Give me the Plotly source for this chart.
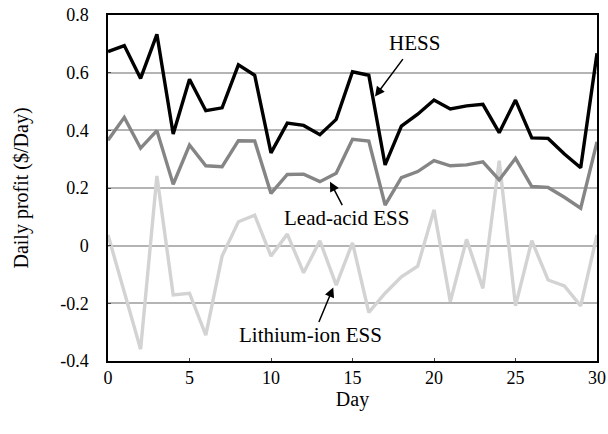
import plotly.graph_objects as go

days = list(range(31))
hess = [0.673, 0.694, 0.580, 0.733, 0.387, 0.577, 0.468, 0.478, 0.627, 0.591,
        0.322, 0.425, 0.417, 0.385, 0.438, 0.603, 0.591, 0.280, 0.415, 0.456,
        0.505, 0.474, 0.485, 0.490, 0.392, 0.505, 0.374, 0.372, 0.318, 0.270, 0.667]
lead_acid = [0.366, 0.445, 0.338, 0.399, 0.213, 0.349, 0.277, 0.274, 0.364, 0.363,
             0.181, 0.247, 0.248, 0.222, 0.251, 0.369, 0.363, 0.141, 0.236, 0.257,
             0.295, 0.277, 0.280, 0.291, 0.228, 0.303, 0.205, 0.202, 0.168, 0.130, 0.360]
lithium = [0.037, -0.165, -0.359, 0.242, -0.171, -0.165, -0.310, -0.036, 0.083, 0.106,
           -0.036, 0.040, -0.094, 0.017, -0.137, 0.010, -0.231, -0.165, -0.108, -0.071,
           0.124, -0.194, 0.022, -0.148, 0.295, -0.209, 0.017, -0.119, -0.140, -0.209, 0.037]

FONT = "Liberation Serif"

fig = go.Figure()
fig.add_trace(go.Scatter(x=days, y=lithium, mode="lines", name="Lithium-ion ESS",
                         line=dict(color="#d3d3d3", width=3.4)))
fig.add_trace(go.Scatter(x=days, y=lead_acid, mode="lines", name="Lead-acid ESS",
                         line=dict(color="#858585", width=3.4)))
fig.add_trace(go.Scatter(x=days, y=hess, mode="lines", name="HESS",
                         line=dict(color="#000000", width=3.4)))

# labels: (text, text_x, text_y, head_x, head_y, tail_dx_px, tail_dy_px)
labels = [
    ("HESS", 18.83, 0.703, 16.38, 0.517, 29, -39),
    ("Lead-acid ESS", 14.66, 0.096, 13.62, 0.222, 13, 25),
    ("Lithium-ion ESS", 12.45, -0.31, 13.82, -0.145, -15, 36),
]
for txt, tx, ty, hx, hy, dx, dy in labels:
    fig.add_annotation(x=tx, y=ty, text=txt, showarrow=False,
                       font=dict(family=FONT, size=21, color="black"))
    fig.add_annotation(x=hx, y=hy, text="", showarrow=True, ax=dx, ay=dy,
                       arrowhead=2, arrowsize=1.3, arrowwidth=1.5, arrowcolor="black")

fig.update_layout(
    width=608, height=434,
    margin=dict(l=108, r=11, t=15, b=73),
    paper_bgcolor="white", plot_bgcolor="white",
    showlegend=False,
    font=dict(family=FONT, size=18, color="black"),
)
fig.update_xaxes(range=[0, 30], tickvals=[0, 5, 10, 15, 20, 25, 30],
                 showgrid=False, zeroline=False, showline=True, linecolor="black",
                 linewidth=1.5, mirror=True, ticks="inside", ticklen=3,
                 automargin=False, tickfont=dict(size=18),
                 title=dict(text="Day", standoff=5, font=dict(size=20)))
fig.update_yaxes(range=[-0.4, 0.8], tickvals=[-0.4, -0.2, 0, 0.2, 0.4, 0.6, 0.8],
                 ticktext=["-0.4", "-0.2", "0", "0.2", "0.4", "0.6", "0.8"],
                 showgrid=True, gridcolor="#b4b4b4", gridwidth=1.5,
                 zeroline=False, showline=True, linecolor="black",
                 linewidth=1.5, mirror=True, ticks="inside", ticklen=3,
                 automargin=False, tickfont=dict(size=18), ticklabelstandoff=14,
                 title=dict(text="Daily profit ($/Day)", standoff=26, font=dict(size=20)))

fig.write_html("out.html")
